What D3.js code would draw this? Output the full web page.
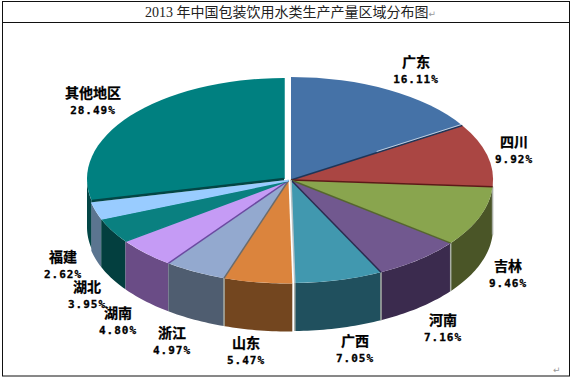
<!DOCTYPE html>
<html>
<head>
<meta charset="utf-8">
<script src="https://cdn.jsdelivr.net/npm/d3@7"></script>
<style>
html, body { margin: 0; padding: 0; background: #fff; }
svg { display: block; }
.name { font: bold 14px "Noto Sans CJK SC"; text-anchor: middle; stroke: #000; stroke-width: 0.25px; }
.pct { font: bold 11px "DejaVu Sans Mono"; letter-spacing: 1px; text-anchor: middle; stroke: #000; stroke-width: 0.3px; }
</style>
</head>
<body>
<div id="chart"></div>
<script>
// Data
const regions = ["广东", "四川", "吉林", "河南", "广西", "山东", "浙江", "湖南", "湖北", "福建", "其他地区"];
const shares = [16.11, 9.92, 9.46, 7.16, 7.05, 5.47, 4.97, 4.80, 3.95, 2.62, 28.49];

const topColors = ["#4572a7", "#aa4643", "#89a54e", "#71588f", "#4198af", "#db843d", "#93a9cf", "#c59bf5", "#0a8080", "#99ccff", "#008080"];
const wallColors = ["#2a4464", "#662a28", "#4a5527", "#3b2b4e", "#20505e", "#73461f", "#4f5d70", "#6a4c86", "#033f3f", "#5b7590", "#034646"];
const edgeColors = ["#1f3557", "#5c1a18", "#55662e", "#2c2a50", "#b9c3c6", "#6b6b6b", "#6a4aa0", "#0a8080", "#99ccff", "#99ccff", "#008080"];

// Label centres (name line, percent line follows)
const labelX = [416, 514, 508, 443, 355, 246, 172, 118, 87, 63, 93];
const labelY = [62, 142, 266, 320, 341, 343, 333, 313, 287, 257, 93];

const width = 572, height = 377;
const depth = 48;
const pieRight = {cx: 291, cy: 180, rx: 202, ry: 103};
const pieLeft = {cx: 288.5, cy: 180.5, rx: 202, ry: 103};   // lower left slices sit a little off in the picture
const pieExploded = {cx: 284, cy: 179, rx: 197, ry: 101};
const leftNames = ["山东", "浙江", "湖南", "湖北", "福建"];
const explodedName = "其他地区";

const svg = d3.select("#chart").append("svg")
     .attr("width", width)
     .attr("height", height);

// Frame and title row
svg.append("rect")
     .attr("x", 2.5).attr("y", 1.5)
     .attr("width", 567).attr("height", 374.5)
     .attr("fill", "#fff").attr("stroke", "#111");
svg.append("line")
     .attr("x1", 2).attr("x2", 570)
     .attr("y1", 22.5).attr("y2", 22.5)
     .attr("stroke", "#111");

let title = svg.append("text")
     .attr("x", 145).attr("y", 17)
     .attr("fill", "#222");
title.append("tspan")
     .attr("font-family", "Liberation Serif").attr("font-size", 14)
     .text("2013 ");
title.append("tspan")
     .attr("font-family", "Noto Sans CJK SC").attr("font-size", 14)
     .text("年中国包装饮用水类生产产量区域分布图");
title.append("tspan")
     .attr("font-family", "DejaVu Sans").attr("font-size", 9).attr("fill", "#999")
     .text("↵");

svg.append("text")
     .attr("x", 553).attr("y", 373)
     .attr("font-family", "DejaVu Sans").attr("font-size", 9).attr("fill", "#999")
     .text("↵");

// Pie layout, clockwise from 12 o'clock in the data order
const slices = d3.pie().sort(null).value(function(d) { return d.share; })(
     regions.map(function(r, i) { return {name: r, share: shares[i], index: i}; })
);

function geom(d) {
     if (d.data.name === explodedName) return pieExploded;
     return leftNames.includes(d.data.name) ? pieLeft : pieRight;
}
function px(g, a) { return g.cx + g.rx * Math.sin(a); }
function py(g, a) { return g.cy - g.ry * Math.cos(a); }

// Front walls, only the part of each slice between 3 and 9 o'clock shows
const wallSlices = slices.filter(function(d) {
     return d.endAngle > Math.PI / 2 && d.startAngle < Math.PI * 1.5;
}).reverse();

svg.selectAll(".wall")
     .data(wallSlices)
     .enter()
     .append("path")
       .attr("class", "wall")
       .attr("fill", function(d) { return wallColors[d.data.index]; })
       .attr("d", function(d) {
            const g = geom(d);
            const a0 = Math.max(d.startAngle, Math.PI / 2);
            const a1 = Math.min(d.endAngle, Math.PI * 1.5);
            const steps = d3.range(a0, a1, 0.02).concat([a1]);
            return d3.area()
                 .x(function(a) { return px(g, a); })
                 .y0(function(a) { return py(g, a); })
                 .y1(function(a) { return py(g, a) + depth; })(steps);
       });

// Light seams between the wall panels
svg.selectAll(".seam")
     .data(slices.filter(function(d) { return d.endAngle > Math.PI / 2 && d.endAngle < Math.PI * 1.2; }))
     .enter()
     .append("line")
       .attr("class", "seam")
       .attr("x1", function(d) { return px(geom(d), d.endAngle); })
       .attr("x2", function(d) { return px(geom(d), d.endAngle); })
       .attr("y1", function(d) { return py(geom(d), d.endAngle); })
       .attr("y2", function(d) { return py(geom(d), d.endAngle) + depth; })
       .attr("stroke", "#a9aea6")
       .attr("stroke-width", 1.5);

// Top faces: a circular arc squashed into the ellipse
const arc = d3.arc().innerRadius(0).outerRadius(1);
svg.selectAll(".top")
     .data(slices)
     .enter()
     .append("path")
       .attr("class", "top")
       .attr("fill", function(d) { return topColors[d.data.index]; })
       .attr("transform", function(d) {
            const g = geom(d);
            return "translate(" + g.cx + "," + g.cy + ") scale(" + g.rx + "," + g.ry + ")";
       })
       .attr("d", arc);

// Edge along the end of every slice
svg.selectAll(".edge")
     .data(slices)
     .enter()
     .append("line")
       .attr("class", "edge")
       .attr("x1", function(d) { return geom(d).cx; })
       .attr("y1", function(d) { return geom(d).cy; })
       .attr("x2", function(d) { return px(geom(d), d.endAngle); })
       .attr("y2", function(d) { return py(geom(d), d.endAngle); })
       .attr("stroke", function(d) { return edgeColors[d.data.index]; })
       .attr("stroke-width", 1.5);

// White sliver on the outer half of the first edge
const first = slices[0];
const sliverEndX = px(pieRight, first.endAngle);
const sliverEndY = py(pieRight, first.endAngle);
svg.append("line")
     .attr("x1", (pieRight.cx + sliverEndX) / 2).attr("y1", (pieRight.cy + sliverEndY) / 2 - 1.2)
     .attr("x2", sliverEndX).attr("y2", sliverEndY - 1.2)
     .attr("stroke", "#dfe6ee")
     .attr("stroke-width", 0.8);

// Dark band under the pulled out slice
const pulled = slices[slices.length - 1];
svg.append("line")
     .attr("x1", pieExploded.cx).attr("y1", pieExploded.cy)
     .attr("x2", px(pieExploded, pulled.startAngle)).attr("y2", py(pieExploded, pulled.startAngle))
     .attr("stroke", "#034646")
     .attr("stroke-width", 2.5);

// Labels
const labels = svg.selectAll(".label")
     .data(regions)
     .enter()
     .append("g")
       .attr("class", "label");
labels.append("text")
     .attr("class", "name")
     .attr("x", function(d, i) { return labelX[i]; })
     .attr("y", function(d, i) { return labelY[i] + 5; })
     .text(function(d) { return d; });
labels.append("text")
     .attr("class", "pct")
     .attr("x", function(d, i) { return labelX[i]; })
     .attr("y", function(d, i) { return labelY[i] + 21; })
     .text(function(d, i) { return shares[i].toFixed(2) + "%"; });
</script>
</body>
</html>
